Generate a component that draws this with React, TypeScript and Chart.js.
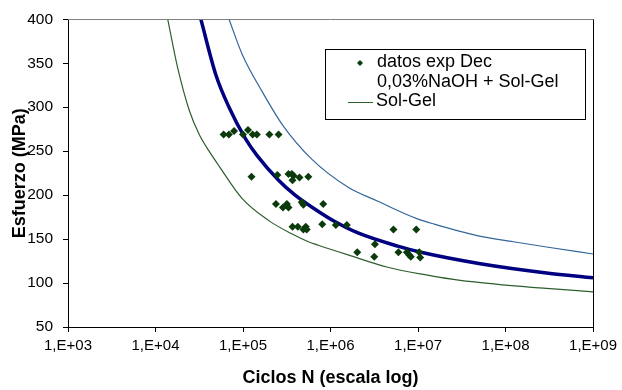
import { useEffect, useRef } from 'react';
import { Chart, registerables } from 'chart.js';

Chart.register(...registerables);

const FONT = "'Liberation Sans', Arial, sans-serif";

const X_TICKS = [1e3, 1e4, 1e5, 1e6, 1e7, 1e8, 1e9];
const X_TICK_LABELS = ['1,E+03', '1,E+04', '1,E+05', '1,E+06', '1,E+07', '1,E+08', '1,E+09'];
const Y_MIN = 50;
const Y_MAX = 400;
const Y_STEP = 50;
const X_TITLE = 'Ciclos N (escala log)';
const Y_TITLE = 'Esfuerzo (MPa)';
const LEGEND_SCATTER = ['datos exp Dec', '0,03%NaOH + Sol-Gel'];
const LEGEND_LINE = 'Sol-Gel';

// experimental points
const EXP_N = [
  60000, 69000, 79000, 100000, 114000, 129000, 144000, 200000, 255000,
  125000, 247000, 331000, 361000, 378000, 368000, 442000, 558000,
  238000, 286000, 317000, 331000, 469000, 490000, 826000,
  368000, 423000, 490000, 521000, 535000, 805000, 1150000, 1535000, 5240000, 9550000,
  2020000, 3220000, 3160000, 5970000, 7460000, 7940000, 8280000, 10330000, 10590000,
];
const EXP_S = [
  269, 269, 273, 269, 274, 269, 269, 269, 269,
  221, 223, 224, 224, 222, 217, 220, 221,
  190, 186, 190, 186, 192, 189, 190,
  164, 164, 161, 164, 161, 167, 166, 166, 161, 161,
  135, 144, 130, 135, 135, 132, 130, 135, 129,
];

// mean curve (thick navy)
const MID_N = [33000, 48900, 69200, 107000, 145000, 255000, 394000, 665000, 1120000, 2060000, 5860000, 10800000, 51500000, 294000000, 1e9];
const MID_S = [400, 337, 300, 264, 245, 217, 200, 184, 170, 157, 142, 135, 122, 111.5, 106];

// upper curve (thin blue)
const UP_N = [69200, 98000, 165000, 282000, 610000, 1590000, 3480000, 9860000, 15300000, 47300000, 123000000, 294000000, 1e9];
const UP_S = [400, 360, 318, 280, 241, 209, 193, 173, 167, 154, 147, 141, 133];

// lower curve (thin green, "Sol-Gel")
const LOW_N = [13800, 17900, 24400, 31600, 41000, 53300, 98000, 197000, 361000, 558000, 726000, 1590000, 4510000, 12800000, 30500000, 175000000, 294000000, 1e9];
const LOW_S = [400, 345, 296, 269, 250, 233, 196, 171, 156, 147, 143, 132, 118, 109, 103, 95.6, 94, 90];

const toPts = (xs: number[], ys: number[]) => xs.map((x, i) => ({ x, y: ys[i] }));

const C_POINT = '#0B3B0B';
const C_MID = '#000080';
const C_UP = '#336699';
const C_LOW = '#2E5E2E';

const framePlugin = {
  id: 'frame',
  afterDatasetsDraw(chart: any) {
    const { ctx, chartArea: a } = chart;
    ctx.save();
    ctx.lineWidth = 1;
    ctx.strokeStyle = '#808080';
    ctx.beginPath();
    ctx.moveTo(a.left, Math.round(a.top) + 0.5);
    ctx.lineTo(a.right, Math.round(a.top) + 0.5);
    ctx.stroke();
    ctx.strokeStyle = '#000';
    ctx.beginPath();
    ctx.moveTo(Math.round(a.right) + 0.5, a.top);
    ctx.lineTo(Math.round(a.right) + 0.5, a.bottom);
    ctx.stroke();
    ctx.restore();
  },
};

const legendPlugin = {
  id: 'boxLegend',
  afterDraw(chart: any) {
    const { ctx } = chart;
    const L = 325.5, T = 49.5, R = 585.5, B = 119.5;
    ctx.save();
    ctx.fillStyle = '#fff';
    ctx.fillRect(L, T, R - L, B - T);
    ctx.strokeStyle = '#000';
    ctx.lineWidth = 1;
    ctx.strokeRect(L, T, R - L, B - T);
    // marker
    const mx = 360, my = 63, r = 3;
    ctx.fillStyle = C_POINT;
    ctx.beginPath();
    ctx.moveTo(mx, my - r);
    ctx.lineTo(mx + r, my);
    ctx.lineTo(mx, my + r);
    ctx.lineTo(mx - r, my);
    ctx.closePath();
    ctx.fill();
    // line
    ctx.strokeStyle = C_LOW;
    ctx.lineWidth = 1;
    ctx.beginPath();
    ctx.moveTo(348, 102.5);
    ctx.lineTo(373, 102.5);
    ctx.stroke();
    // texts
    ctx.fillStyle = '#000';
    ctx.font = `18px ${FONT}`;
    ctx.textBaseline = 'middle';
    ctx.textAlign = 'left';
    ctx.fillText(LEGEND_SCATTER[0], 377, 62);
    ctx.fillText(LEGEND_SCATTER[1], 377, 82);
    ctx.fillText(LEGEND_LINE, 376, 101.5);
    ctx.restore();
  },
};

export default function App() {
  const ref = useRef<HTMLCanvasElement>(null);

  useEffect(() => {
    if (!ref.current) return;
    const chart = new Chart(ref.current, {
      type: 'scatter',
      data: {
        datasets: [
          {
            label: LEGEND_SCATTER.join(' '),
            data: toPts(EXP_N, EXP_S),
            pointStyle: 'rectRot',
            pointRadius: 4,
            backgroundColor: C_POINT,
            borderColor: C_POINT,
            borderWidth: 0,
            showLine: false,
          },
          {
            label: 'media',
            data: toPts(MID_N, MID_S),
            showLine: true,
            borderColor: C_MID,
            borderWidth: 3.5,
            pointRadius: 0,
            cubicInterpolationMode: 'monotone',
            fill: false,
          },
          {
            label: 'superior',
            data: toPts(UP_N, UP_S),
            showLine: true,
            borderColor: C_UP,
            borderWidth: 1.2,
            pointRadius: 0,
            cubicInterpolationMode: 'monotone',
            fill: false,
          },
          {
            label: LEGEND_LINE,
            data: toPts(LOW_N, LOW_S),
            showLine: true,
            borderColor: C_LOW,
            borderWidth: 1.2,
            pointRadius: 0,
            cubicInterpolationMode: 'monotone',
            fill: false,
          },
        ],
      },
      options: {
        animation: false,
        responsive: false,
        maintainAspectRatio: false,
        layout: { padding: { left: 0, top: 18, right: 25, bottom: 0 } },
        plugins: { legend: { display: false }, tooltip: { enabled: false } },
        scales: {
          x: {
            type: 'logarithmic',
            min: X_TICKS[0],
            max: X_TICKS[X_TICKS.length - 1],
            afterBuildTicks: (s: any) => {
              s.ticks = X_TICKS.map((v) => ({ value: v, major: true }));
            },
            afterFit: (s: any) => {
              s.height = 63;
            },
            grid: { display: true, drawOnChartArea: false, drawTicks: true, tickLength: 5, color: '#000', tickColor: '#000' },
            border: { display: true, color: '#000', width: 1 },
            ticks: {
              callback: (_v: any, i: number) => X_TICK_LABELS[i],
              font: { family: FONT, size: 15 },
              color: '#000',
              padding: 5,
              maxRotation: 0,
              autoSkip: false,
            },
            title: {
              display: true,
              text: X_TITLE,
              font: { family: FONT, size: 18, weight: 'bold' },
              color: '#000',
              padding: { top: 0, bottom: 1 },
            },
          },
          y: {
            type: 'linear',
            min: Y_MIN,
            max: Y_MAX,
            afterFit: (s: any) => {
              s.width = 68;
            },
            grid: { display: true, drawOnChartArea: false, drawTicks: true, tickLength: 5, color: '#000', tickColor: '#000' },
            border: { display: true, color: '#000', width: 1 },
            ticks: {
              stepSize: Y_STEP,
              font: { family: FONT, size: 15.5 },
              color: '#000',
              padding: 10,
            },
            title: {
              display: true,
              text: Y_TITLE,
              font: { family: FONT, size: 18, weight: 'bold' },
              color: '#000',
              padding: { top: 9, bottom: 0 },
            },
          },
        },
      },
      plugins: [framePlugin, legendPlugin],
    } as any);
    return () => chart.destroy();
  }, []);

  return (
    <div style={{ position: 'absolute', left: 0, top: 0, width: 622, height: 390, background: '#fff' }}>
      <canvas ref={ref} width={622} height={390} style={{ display: 'block', width: 622, height: 390 }} />
    </div>
  );
}
